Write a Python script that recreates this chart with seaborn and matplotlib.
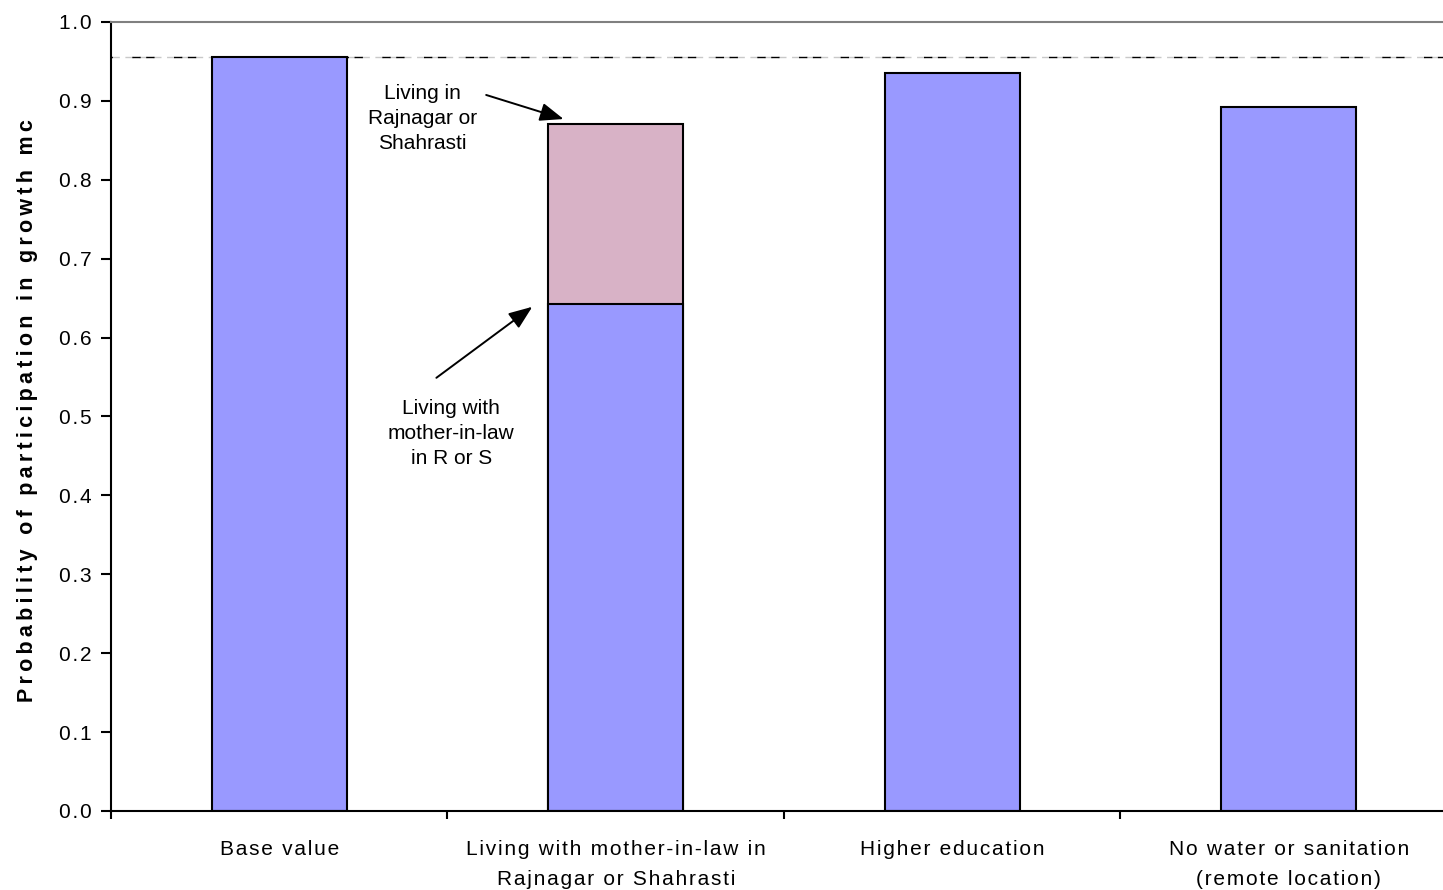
import numpy as np
import pandas as pd
import matplotlib
matplotlib.use("Agg")
import matplotlib.pyplot as plt
import seaborn as sns

# Chart data
categories = ["Base value",
              "Living with mother-in-law in\nRajnagar or Shahrasti",
              "Higher education",
              "No water or sanitation\n(remote location)"]
prob_total = [0.956, 0.871, 0.935, 0.892]          # full bar heights
prob_lower = [np.nan, 0.643, np.nan, np.nan]       # lower part of the stacked bar
bar_colors = ["#9999FF", "#D8B2C6", "#9999FF", "#9999FF"]
y_ticks = [0.0, 0.1, 0.2, 0.3, 0.4, 0.5, 0.6, 0.7, 0.8, 0.9, 1.0]


def spaced(s, sp="\u200a"):
    # wide letter spacing like the original (old Excel rendering)
    return "\n".join(sp.join(line) for line in s.split("\n"))


sns.set_style("white")
plt.rcParams['font.family'] = ['Liberation Sans', 'DejaVu Sans']
plt.rcParams['text.color'] = 'black'
plt.rcParams['axes.labelcolor'] = 'black'
plt.rcParams['xtick.color'] = 'black'
plt.rcParams['ytick.color'] = 'black'

df_total = pd.DataFrame({'category': categories, 'prob': prob_total})
df_lower = pd.DataFrame({'category': categories, 'prob': prob_lower}).dropna()

fig = plt.figure(figsize=(14.43, 8.9), dpi=100)
ax = fig.add_axes([0.0769, 0.0888, 0.9328, 0.8865])

# total bars (top part of the stacked bar is pink)
sns.barplot(data=df_total, x='category', y='prob', hue='category', order=categories,
            hue_order=categories, palette=bar_colors, legend=False, width=0.4,
            edgecolor='black', linewidth=1.5, ax=ax)
# lower part of the stacked bar
sns.barplot(data=df_lower, x='category', y='prob', order=categories, color='#9999FF',
            width=0.4, edgecolor='black', linewidth=1.5, ax=ax)

# seaborn desaturates colours by default: restore exact colours
for p, c in zip(ax.patches[:4], bar_colors):
    p.set_facecolor(c)
for p in ax.patches[4:]:
    p.set_facecolor('#9999FF')

# base value reference line (mixed black / grey dashes)
ax.axhline(prob_total[0], color='#c8c8c8', lw=1.0, ls=(0, (6, 4)), zorder=0.5)
ax.axhline(prob_total[0], color='black', lw=1.0, ls=(5, (6, 14, 6, 4)), zorder=0.6)

ax.set_ylim(0, 1.0)
ax.set_xlim(-0.5, 3.5)
ax.set_yticks(y_ticks)
ax.set_yticklabels([spaced(f"{v:.1f}") for v in y_ticks], fontsize=15)
ax.set_xticks(range(len(categories)))
ax.set_xticklabels([spaced(c) for c in categories], fontsize=15, linespacing=1.7)
ax.set_xticks(np.arange(-0.5, 3.6, 1.0), minor=True)
ax.tick_params(axis='x', which='major', length=0, pad=21)
ax.tick_params(axis='x', which='minor', length=6, width=1.5, color='black', direction='out', bottom=True)
ax.tick_params(axis='y', length=7, width=1.5, color='black', direction='out', pad=7, left=True)
ax.set_xlabel('')

ax.set_ylabel(spaced("Probability of participation in growth mc", "\u2009"),
              fontsize=15.5, fontweight='bold')
ax.yaxis.set_label_coords(-0.0545, 0.507)

for side in ['left', 'bottom']:
    ax.spines[side].set_color('black')
    ax.spines[side].set_linewidth(1.5)
ax.spines['top'].set_color('#808080')
ax.spines['top'].set_linewidth(1.5)
ax.spines['right'].set_color('#808080')
ax.grid(False)

# annotations
arrow_kw = dict(arrowstyle='-|>,head_length=0.9,head_width=0.35', color='black', lw=1.4,
                mutation_scale=16, shrinkA=0, shrinkB=0)
ax.text(0.425, 0.878, "Living in\nRajnagar or\nShahrasti", ha='center', va='center',
        fontsize=15, linespacing=1.4)
ax.annotate("", xy=(0.845, 0.877), xytext=(0.615, 0.9075), arrowprops=arrow_kw)
ax.text(0.511, 0.479, "Living with\nmother-in-law\nin R or S", ha='center', va='center',
        fontsize=15, linespacing=1.4)
ax.annotate("", xy=(0.752, 0.639), xytext=(0.467, 0.549), arrowprops=arrow_kw)

plt.savefig('out.png', dpi=100)
